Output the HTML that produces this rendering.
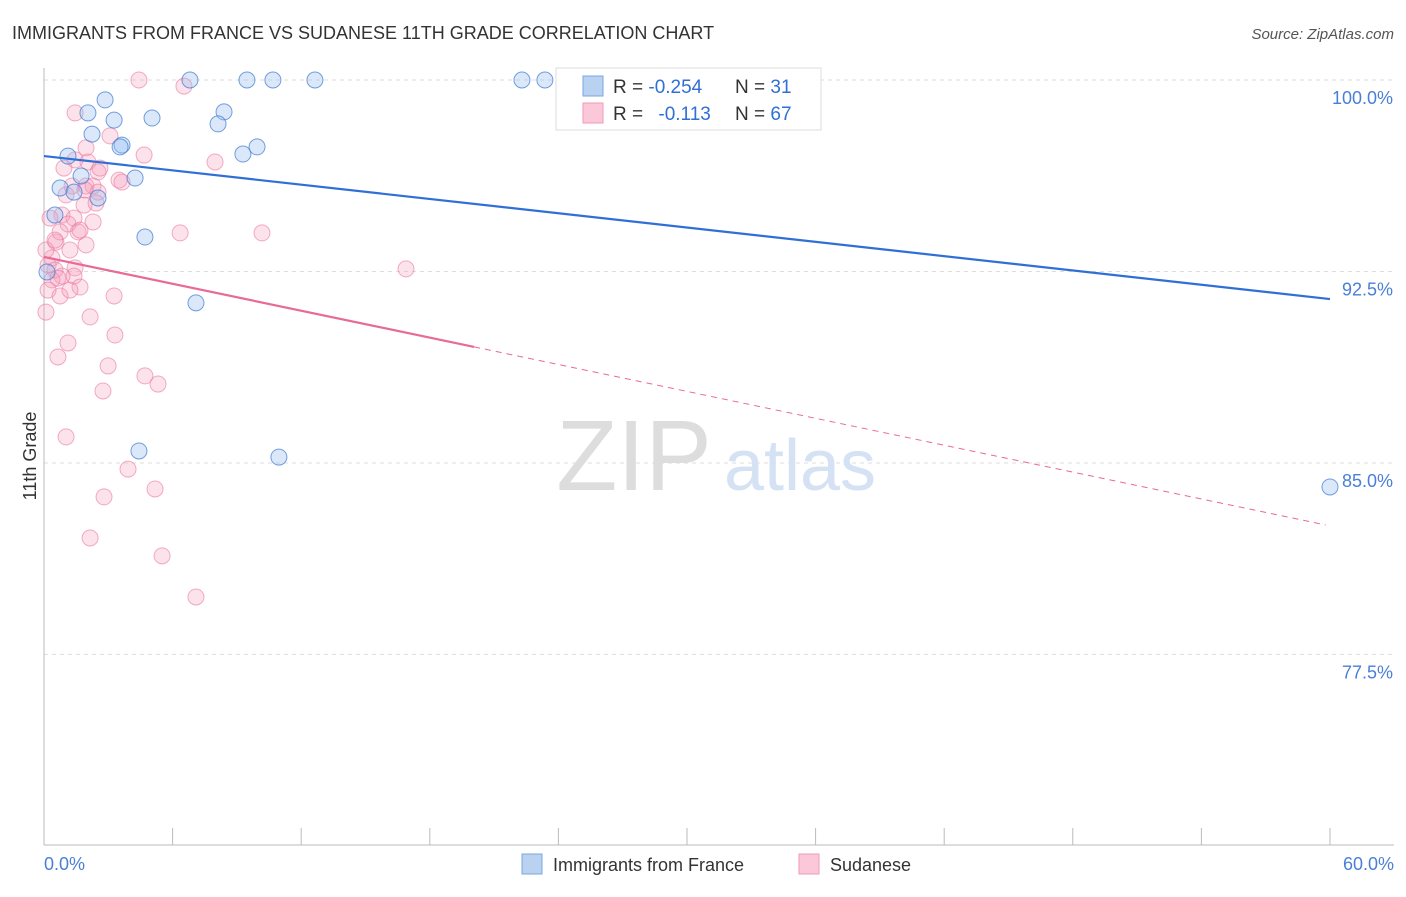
<!DOCTYPE html>
<html><head><meta charset="utf-8"><style>
body{margin:0;background:#fff;font-family:"Liberation Sans",sans-serif;}
svg text{font-family:"Liberation Sans",sans-serif;}
</style></head><body>
<svg id="chart" width="1406" height="892" viewBox="0 0 1406 892">
<text x="12" y="39" font-size="18" fill="#333">IMMIGRANTS FROM FRANCE VS SUDANESE 11TH GRADE CORRELATION CHART</text>
<text x="1394" y="39" font-size="15" fill="#555" font-style="italic" text-anchor="end">Source: ZipAtlas.com</text>
<g id="grid"></g>
<text x="634" y="490" font-size="100" fill="#ddd" font-family="Liberation Serif" text-anchor="middle">ZIP</text>
<text x="800" y="490" font-size="72" fill="#d4e2f4" text-anchor="middle">atlas</text>
<g id="axes"></g>
<g id="pts"></g>
<g id="lines"></g>
<text x="36" y="456" font-size="18" fill="#333" text-anchor="middle" transform="rotate(-90 36 456)">11th Grade</text>
<text x="44" y="870" font-size="18" fill="#4a7fd6">0.0%</text>
<text x="1394" y="870" font-size="18" fill="#4a7fd6" text-anchor="end">60.0%</text>
<g>
<rect x="556" y="68" width="265" height="62" fill="#fff" stroke="#ddd"/>
<rect x="583" y="76" width="20" height="20" fill="#b9d2f2" stroke="#7aa7e0"/>
<rect x="583" y="103" width="20" height="20" fill="#fac8d8" stroke="#f09ab8"/>
<text x="613" y="93" font-size="19" fill="#333">R = <tspan fill="#2f6fd6">-0.254</tspan></text>
<text x="735" y="93" font-size="19" fill="#333">N = <tspan fill="#2f6fd6">31</tspan></text>
<text x="613" y="120" font-size="19" fill="#333">R = <tspan fill="#2f6fd6" dx="10">-0.113</tspan></text>
<text x="735" y="120" font-size="19" fill="#333">N = <tspan fill="#2f6fd6">67</tspan></text>
</g>
<g>
<rect x="522" y="854" width="20" height="20" fill="#b9d2f2" stroke="#7aa7e0"/>
<text x="553" y="871" font-size="18" fill="#333">Immigrants from France</text>
<rect x="799" y="854" width="20" height="20" fill="#fac8d8" stroke="#f09ab8"/>
<text x="830" y="871" font-size="18" fill="#333">Sudanese</text>
</g>
</svg>
<script>
const yTicks=[100,92.5,85,77.5];
const yTickLabels=["100.0%","92.5%","85.0%","77.5%"];
const xTicks=[0,6,12,18,24,30,36,42,48,54,60];
const franceX=[6.81,9.47,10.68,12.64,22.30,23.37,31.31,2.85,2.05,8.40,3.27,5.04,8.12,2.24,3.64,3.55,9.28,9.94,1.12,4.25,1.73,0.75,1.40,2.52,0.51,4.71,7.09,4.43,10.96,60.0,0.14];
const franceY=[100,100,100,100,100,100,100,99.22,98.71,98.75,98.43,98.51,98.28,97.88,97.45,97.38,97.10,97.38,97.02,96.16,96.24,95.77,95.61,95.38,94.71,93.85,91.27,85.47,85.23,84.06,92.48];
const sudX=[4.43,6.53,1.45,3.08,4.67,1.96,7.98,2.05,0.93,2.52,3.50,3.64,1.31,1.96,2.29,2.52,1.87,2.43,0.84,1.40,2.29,1.59,1.12,0.56,1.96,1.21,6.35,10.17,16.89,0.37,0.19,0.51,1.45,1.40,0.84,0.37,1.68,0.19,0.75,3.27,2.15,0.09,3.31,1.12,0.65,2.99,4.71,5.32,2.75,1.03,3.92,5.18,2.80,2.15,5.51,7.09,0.75,1.03,0.28,0.09,1.45,1.91,2.61,0.65,1.21,0.51,1.68];
const sudY=[100,99.76,98.71,97.81,97.06,97.34,96.79,96.79,96.55,96.40,96.08,96.00,95.85,95.85,95.85,95.61,95.10,95.18,94.71,94.59,94.44,94.05,94.36,93.65,93.54,93.34,94.01,94.01,92.60,93.03,92.75,92.56,92.64,92.32,92.32,92.17,91.89,91.77,91.54,91.54,90.72,90.91,90.01,89.70,89.15,88.80,88.41,88.09,87.82,86.02,84.76,83.98,83.67,82.06,81.36,79.75,94.05,95.50,94.59,93.34,96.87,95.69,96.55,92.24,91.77,93.73,94.12];
const franceTrend=[97.02,91.42];
const sudTrend=[93.07,82.57];
const sudSolidEnd=20.07;
const NS="http://www.w3.org/2000/svg";
const xs=v=>44+v*21.433;
const ys=v=>80+(100-v)*25.53;
function mk(t,a,p){const e=document.createElementNS(NS,t);for(const k in a)e.setAttribute(k,a[k]);p.appendChild(e);return e;}
const grid=document.getElementById('grid'),axes=document.getElementById('axes'),pts=document.getElementById('pts'),lines=document.getElementById('lines');
yTicks.forEach((v,i)=>{
 const l=mk('line',{x1:44,x2:1394,y1:ys(v),y2:ys(v),stroke:'#ddd','stroke-dasharray':'4,4'},grid);
 
 
 const t=mk('text',{x:1393,y:ys(v)+24,'font-size':18,fill:'#4a7fd6','text-anchor':'end'},grid);
 t.textContent=yTickLabels[i];
 
 
});
const ya=mk('line',{x1:44,x2:44,y1:68,y2:845,stroke:'#bbb'},axes);


const xa=mk('line',{x1:44,x2:1394,y1:845,y2:845,stroke:'#bbb'},axes);


xTicks.forEach(v=>{
 const l=mk('line',{x1:xs(v),x2:xs(v),y1:828,y2:845,stroke:'#bbb'},axes);
 
 
});
sudX.forEach((x,i)=>{
 const c=mk('circle',{cx:xs(x),cy:ys(sudY[i]),r:8,fill:'rgba(245,160,190,0.3)',stroke:'rgba(235,120,160,0.6)','stroke-width':1},pts);
 
 
});
franceX.forEach((x,i)=>{
 const c=mk('circle',{cx:xs(x),cy:ys(franceY[i]),r:8,fill:'rgba(150,190,240,0.35)',stroke:'rgba(60,120,210,0.7)','stroke-width':1},pts);
 
 
});
const bl=mk('line',{x1:xs(0),y1:ys(franceTrend[0]),x2:xs(60),y2:ys(franceTrend[1]),stroke:'#2f6fd6','stroke-width':2.2},lines);


const sAt=x=>sudTrend[0]+(sudTrend[1]-sudTrend[0])*x/59.8;
const pl=mk('line',{x1:xs(0),y1:ys(sudTrend[0]),x2:xs(sudSolidEnd),y2:ys(sAt(sudSolidEnd)),stroke:'#e86a98','stroke-width':2.2},lines);


const pd=mk('line',{x1:xs(sudSolidEnd),y1:ys(sAt(sudSolidEnd)),x2:xs(59.8),y2:ys(sudTrend[1]),stroke:'#e86a98','stroke-width':1,'stroke-dasharray':'6,5'},lines);


</script>
</body></html>
